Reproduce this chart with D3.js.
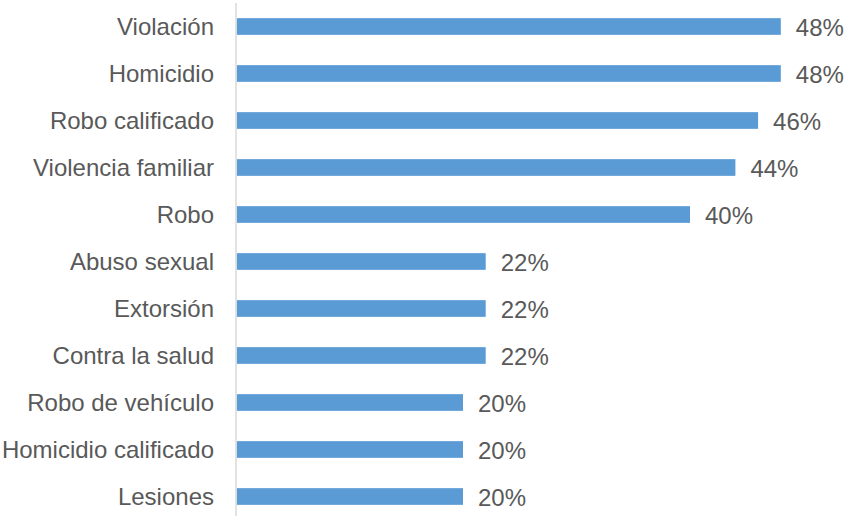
<!DOCTYPE html>
<html>
<head>
<meta charset="utf-8">
<script src="https://cdn.jsdelivr.net/npm/d3@7"></script>
<style>
  html, body { margin: 0; padding: 0; background: #ffffff; }
  svg { display: block; }
  text { font-family: "Liberation Sans", Arial, Helvetica, sans-serif; fill: #595959; }
</style>
</head>
<body>
<svg id="chart" width="846" height="516"></svg>
<script>
// Crime categories, top to bottom
const categories = [
  "Violación",
  "Homicidio",
  "Robo calificado",
  "Violencia familiar",
  "Robo",
  "Abuso sexual",
  "Extorsión",
  "Contra la salud",
  "Robo de vehículo",
  "Homicidio calificado",
  "Lesiones"
];

// Share of responses per category (percent)
const values = [48, 48, 46, 44, 40, 22, 22, 22, 20, 20, 20];

const width = 846, height = 516;
const svg = d3.select("#chart");

const x = d3.scaleLinear().domain([0, 50]).range([236, 803.5]);
const y = d3.scaleBand()
  .domain(categories)
  .range([3, 520])
  .paddingInner(0.645)
  .paddingOuter(0.3225);

const rows = categories.map((c, i) => ({ cat: c, val: values[i] }));

// Bars
svg.append("g")
  .selectAll("rect")
  .data(rows)
  .join("rect")
  .attr("x", x(0) + 0.8)
  .attr("y", d => y(d.cat))
  .attr("width", d => x(d.val) - x(0) - 0.8)
  .attr("height", y.bandwidth())
  .attr("fill", "#5b9bd5");

// Vertical category axis line
svg.append("line")
  .attr("x1", x(0)).attr("x2", x(0))
  .attr("y1", 3).attr("y2", height)
  .attr("stroke", "#d9d9d9")
  .attr("stroke-width", 1.5);

// Category labels
svg.append("g")
  .selectAll("text")
  .data(rows)
  .join("text")
  .attr("x", 214)
  .attr("y", d => y(d.cat) + y.bandwidth() / 2 + 8.5)
  .attr("text-anchor", "end")
  .attr("font-size", 24)
  .text(d => d.cat);

// Value labels
svg.append("g")
  .selectAll("text")
  .data(rows)
  .join("text")
  .attr("x", d => x(d.val) + 15)
  .attr("y", d => y(d.cat) + y.bandwidth() / 2 + 9)
  .attr("font-size", 24)
  .text(d => d.val + "%");
</script>
</body>
</html>
